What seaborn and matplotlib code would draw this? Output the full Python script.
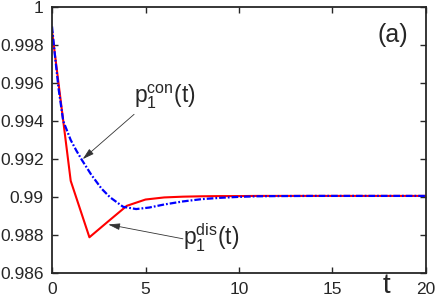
import numpy as np
import pandas as pd
import matplotlib
matplotlib.use('Agg')
import matplotlib.pyplot as plt
import seaborn as sns

sns.set_style("ticks")
plt.rcParams['font.family'] = ['Liberation Sans', 'DejaVu Sans']

# discrete-time solution (red), read at integer t
t_dis = list(range(0, 21))
p_dis = [0.99872, 0.99086, 0.98790, 0.98873, 0.98955, 0.98988, 0.98999,
         0.99003, 0.99005, 0.99006, 0.99006, 0.99007, 0.99007, 0.99007,
         0.99007, 0.99007, 0.99007, 0.99007, 0.99007, 0.99007, 0.99007]

# continuous-time solution (blue)
t_con = [0, 0.15, 0.35, 0.6, 1.0, 1.3, 1.6, 2.1, 2.65, 3.1, 3.8,
         4.5, 5.2, 6.0, 7.0, 8.0, 9.0, 10, 11, 12, 14, 16, 18, 20]
p_con = [0.99896, 0.99750, 0.99570, 0.99400, 0.99300, 0.99245, 0.99195,
         0.99118, 0.99045, 0.99000, 0.98950, 0.98938, 0.98946,
         0.98962, 0.98978, 0.98990, 0.98997, 0.99002, 0.99005, 0.99006,
         0.99007, 0.99007, 0.99007, 0.99007]

dis = pd.DataFrame({'t': t_dis, 'p': p_dis})
con = pd.DataFrame({'t': t_con, 'p': p_con})

fig = plt.figure(figsize=(4.36, 3.01), dpi=100)
ax = fig.add_axes([0.1193, 0.0914, 0.8577, 0.8866])

sns.lineplot(data=dis, x='t', y='p', color='#ff0000', lw=1.5, ax=ax)
sns.lineplot(data=con, x='t', y='p', color='#0000ff', lw=1.6,
             linestyle=(0, (3.0, 0.9, 0.8, 0.9)), ax=ax)

ax.set_xlim(0, 20)
ax.set_ylim(0.986, 1.0)
ax.set_xticks([0, 5, 10, 15, 20])
ax.set_yticks([0.986, 0.988, 0.99, 0.992, 0.994, 0.996, 0.998, 1.0])
ax.set_yticklabels(['0.986', '0.988', '0.99', '0.992', '0.994', '0.996', '0.998', '1'])
ax.tick_params(direction='in', length=4, width=1, labelsize=12.5,
               top=True, right=True, pad=6, colors='#262626')
for s in ax.spines.values():
    s.set_visible(True)
    s.set_linewidth(1.3)
    s.set_color('#262626')

ax.set_ylabel('')
ax.set_xlabel('t', fontsize=20)
ax.xaxis.set_label_coords(0.895, 0.0)

# labels with arrows
ax.text(4.40, 0.99496, r'$\mathregular{p_1^{con}(t)}$', fontsize=16.5,
        ha='left', va='baseline')
ax.annotate('', xy=(1.64, 0.99200), xytext=(4.39, 0.99435),
            arrowprops=dict(arrowstyle='-|>,head_length=0.7,head_width=0.2',
                            color='#333333', lw=0.6, shrinkA=0, shrinkB=0))
ax.text(7.0, 0.98747, r'$\mathregular{p_1^{dis}(t)}$', fontsize=16.5,
        ha='left', va='baseline')
ax.annotate('', xy=(3.01, 0.98857), xytext=(7.0, 0.98782),
            arrowprops=dict(arrowstyle='-|>,head_length=0.7,head_width=0.2',
                            color='#333333', lw=0.6, shrinkA=0, shrinkB=0))

ax.text(18.2, 0.99852, '(a)', fontsize=18, ha='center', va='center')

fig.savefig('out.png', dpi=100)
